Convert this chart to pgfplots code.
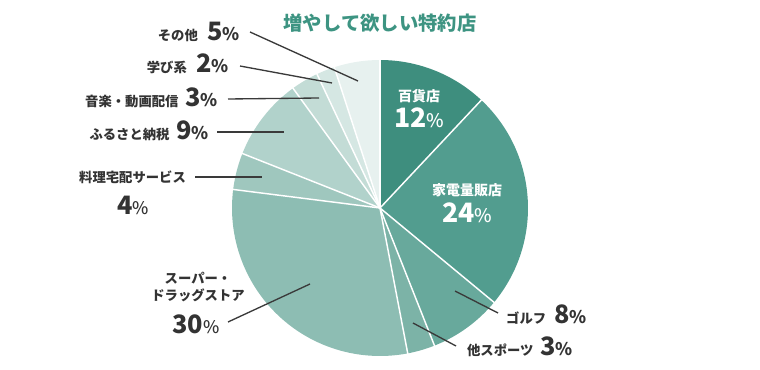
\documentclass[border=0pt]{standalone}
\usepackage{pgfplots}
\pgfplotsset{compat=1.18}
\usepackage{pgfplotstable}
\usepackage{fontspec}
\setmainfont{Noto Sans CJK JP}
\newfontfamily\medfont{Noto Sans CJK JP Medium}

\definecolor{s0}{HTML}{3E8E7E}
\definecolor{s1}{HTML}{529D8F}
\definecolor{s2}{HTML}{68A99C}
\definecolor{s3}{HTML}{7CB3A7}
\definecolor{s4}{HTML}{8DBDB3}
\definecolor{s5}{HTML}{9FC7BE}
\definecolor{s6}{HTML}{B1D2CB}
\definecolor{s7}{HTML}{C3DCD6}
\definecolor{s8}{HTML}{D5E7E3}
\definecolor{s9}{HTML}{E7F1EF}
\definecolor{titlec}{HTML}{3D9482}
\definecolor{txt}{HTML}{333333}
\definecolor{lead}{HTML}{3A3A3A}

% share (%) of each slice, clockwise from 12 o'clock
\pgfplotstableread{
idx value name
0 12 百貨店
1 24 家電量販店
2 8 ゴルフ
3 3 他スポーツ
4 30 スーパー・ドラッグストア
5 4 料理宅配サービス
6 9 ふるさと納税
7 3 音楽・動画配信
8 2 学び系
9 5 その他
}\piedata

% cumulative angles
\gdef\cum{0}
\pgfplotsforeachungrouped \i in {0,...,9}{%
  \pgfplotstablegetelem{\i}{value}\of\piedata
  \pgfmathsetmacro\sa{90-3.6*\cum}%
  \pgfmathsetmacro\newcum{\cum+\pgfplotsretval}%
  \pgfmathsetmacro\ea{90-3.6*\newcum}%
  \expandafter\xdef\csname sa\i\endcsname{\sa}%
  \expandafter\xdef\csname ea\i\endcsname{\ea}%
  \xdef\cum{\newcum}%
}

\newcommand\pcb[1]{{\bfseries\fontsize{19}{19}\selectfont #1}{\medfont\fontsize{13}{13}\selectfont\%}}
\newcommand\pcw[1]{{\bfseries\fontsize{20}{20}\selectfont #1}{\medfont\fontsize{14}{14}\selectfont\%}}
\newcommand\lab{\bfseries\fontsize{10}{12}\selectfont}

\begin{document}
\begin{tikzpicture}
\begin{axis}[
  hide axis, scale only axis,
  width=570pt, height=277.5pt,
  xmin=0, xmax=760, ymin=0, ymax=370,
  y dir=reverse, clip=false,
]
\addplot[draw=none] coordinates {(0,0) (760,370)};
% wedges
\pgfplotsinvokeforeach{0,...,9}{%
  \fill[s#1] (axis cs:380,208) -- +(\csname sa#1\endcsname:111pt)
    arc[start angle=\csname sa#1\endcsname, end angle=\csname ea#1\endcsname, radius=111pt] -- cycle;
}
\pgfplotsinvokeforeach{0,...,9}{%
  \draw[white, line width=1.1pt] (axis cs:380,208) -- +(\csname sa#1\endcsname:111.5pt);
}
% title
\node[text=titlec, font=\bfseries\fontsize{14.5}{16}\selectfont] at (axis cs:380,23) {増やして欲しい特約店};
% inside labels
\node[text=white, font=\bfseries\fontsize{10.5}{12}\selectfont] at (axis cs:419,96) {百貨店};
\node[text=white, anchor=base] at (axis cs:419,128) {\pcw{12}};
\node[text=white, font=\bfseries\fontsize{10.5}{12}\selectfont] at (axis cs:467,190) {家電量販店};
\node[text=white, anchor=base] at (axis cs:467,223) {\pcw{24}};
% leader lines
\begin{scope}[lead, line width=1pt]
\draw (axis cs:250,32) -- (axis cs:358,81);
\draw (axis cs:240,66) -- (axis cs:332,83);
\draw (axis cs:228,99) -- (axis cs:319,98);
\draw (axis cs:217,132) -- (axis cs:284,132);
\draw (axis cs:195,177) -- (axis cs:262,177);
\draw (axis cs:228,322) -- (axis cs:310,284);
\draw (axis cs:455,291) -- (axis cs:498,313);
\draw (axis cs:413,323) -- (axis cs:456,346);
\end{scope}
% outside labels
\begin{scope}[every node/.style={text=txt, inner sep=0pt}]
\node[anchor=base east] at (axis cs:240,41) {\lab その他\hspace{7pt}\pcb{5}};
\node[anchor=base east] at (axis cs:229,73) {\lab 学び系\hspace{7pt}\pcb{2}};
\node[anchor=base east] at (axis cs:218,107) {\lab 音楽・動画配信\hspace{5pt}\pcb{3}};
\node[anchor=base east] at (axis cs:209,140) {\lab ふるさと納税\hspace{5pt}\pcb{9}};
\node at (axis cs:132.5,177) {\lab 料理宅配サービス};
\node[anchor=base] at (axis cs:133,215) {\pcb{4}};
\node[align=center] at (axis cs:198,287) {\lab スーパー・\\[1pt]\lab ドラッグストア};
\node[anchor=base] at (axis cs:196,333) {\pcb{30}};
\node[anchor=base east] at (axis cs:587,323) {\lab ゴルフ\hspace{6pt}\pcb{8}};
\node[anchor=base east] at (axis cs:573,355) {\lab 他スポーツ\hspace{5pt}\pcb{3}};
\end{scope}
\end{axis}
\end{tikzpicture}
\end{document}
